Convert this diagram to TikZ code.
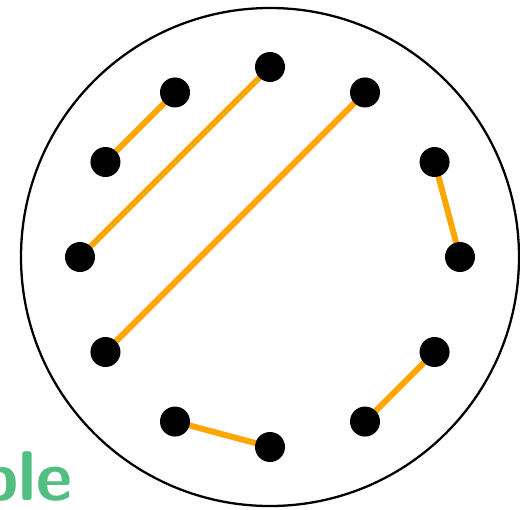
\documentclass[tikz,border=0pt]{standalone}
\usepackage{tikz}
\usetikzlibrary{positioning,calc}
\definecolor{chordcol}{RGB}{255,166,0}
\definecolor{labelgreen}{RGB}{82,190,128}

\begin{document}
\begin{tikzpicture}[
    pt/.style={circle, fill=black, inner sep=0pt, minimum size=0.6cm},
    chord/.style={chordcol, line width=3.4pt}
  ]
    \useasboundingbox (-5.4,-5.04) rectangle (5.0,5.14);
    \node[draw=black, line width=1.3pt, circle, minimum size=9.96cm, inner sep=0pt] (disc) at (0,0) {};
    % twelve points round the disc
    \foreach \k in {0,...,11} {
      \coordinate (c\k) at (\k*30:3.8);
    }
    \draw[chord] (c4) -- (c5);
    \draw[chord] (c3) -- (c6);
    \draw[chord] (c2) -- (c7);
    \draw[chord] (c1) -- (c0);
    \draw[chord] (c11) -- (c10);
    \draw[chord] (c8) -- (c9);
    \foreach \k in {0,...,11} {
      \node[pt] (p\k) at (c\k) {};
    }
    \node[anchor=base east, inner sep=0pt, text=labelgreen,
      font=\fontsize{40}{48}\selectfont\sffamily\bfseries] (word) at (-3.94,-4.86) {ble};
  \end{tikzpicture}
\end{document}
